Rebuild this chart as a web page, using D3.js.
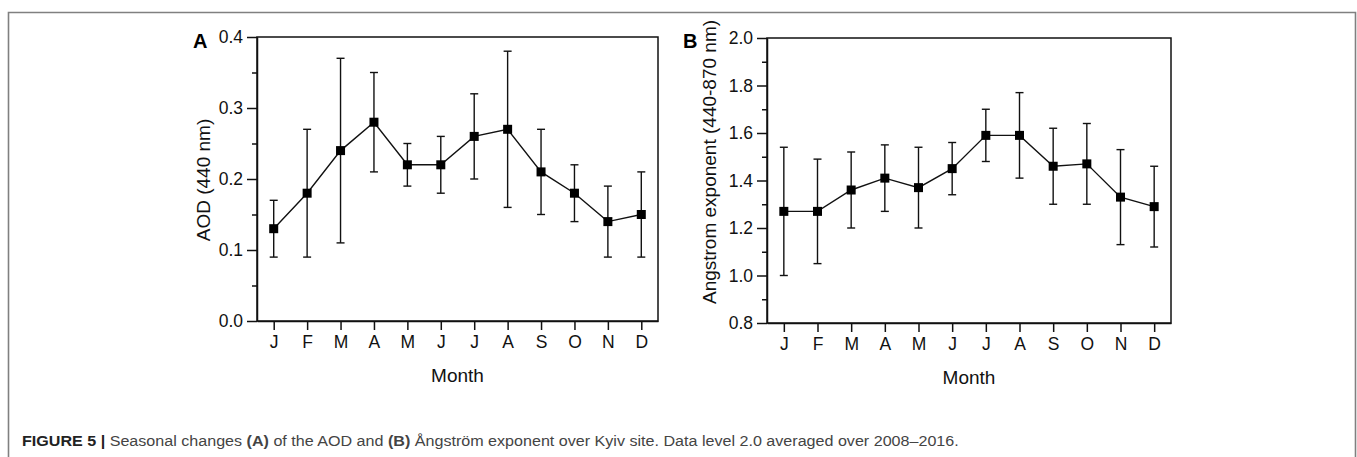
<!DOCTYPE html>
<html>
<head>
<meta charset="utf-8">
<script src="https://cdn.jsdelivr.net/npm/d3@7"></script>
<style>
  body { margin: 0; background: #fff; }
  svg { display: block; font-family: "Liberation Sans", Arial, sans-serif; }
</style>
</head>
<body>
<div id="main"></div>
<script>

var width = 1357,
    height = 457;

// month labels on the x axis
var months = ["J", "F", "M", "A", "M", "J", "J", "A", "S", "O", "N", "D"];

// panel A: AOD (440 nm) mean, lower and upper error
var aodMean = [0.13, 0.18, 0.24, 0.28, 0.22, 0.22, 0.26, 0.27, 0.21, 0.18, 0.14, 0.15];
var aodLow  = [0.09, 0.09, 0.11, 0.21, 0.19, 0.18, 0.20, 0.16, 0.15, 0.14, 0.09, 0.09];
var aodHigh = [0.17, 0.27, 0.37, 0.35, 0.25, 0.26, 0.32, 0.38, 0.27, 0.22, 0.19, 0.21];
var aodTicks = [0.0, 0.1, 0.2, 0.3, 0.4];
var aodMinor = [0.05, 0.15, 0.25, 0.35];

// panel B: Angstrom exponent (440-870 nm)
var aeMean = [1.27, 1.27, 1.36, 1.41, 1.37, 1.45, 1.59, 1.59, 1.46, 1.47, 1.33, 1.29];
var aeLow  = [1.00, 1.05, 1.20, 1.27, 1.20, 1.34, 1.48, 1.41, 1.30, 1.30, 1.13, 1.12];
var aeHigh = [1.54, 1.49, 1.52, 1.55, 1.54, 1.56, 1.70, 1.77, 1.62, 1.64, 1.53, 1.46];
var aeTicks = [0.8, 1.0, 1.2, 1.4, 1.6, 1.8, 2.0];
var aeMinor = [0.9, 1.1, 1.3, 1.5, 1.7, 1.9];

var svg = d3.select("div#main").append("svg")
    .attr("width", width)
    .attr("height", height);

// outer figure frame (no bottom edge, it runs off the picture)
svg.append("path")
    .attr("d", "M8.5,457 V12.5 H1355.5 V457")
    .attr("fill", "none")
    .attr("stroke", "#808080")
    .attr("stroke-width", 1.6);

var panels = [
    { letter: "A", letterX: 193, left: 257, right: 658, top: 37, bottom: 321,
      domain: [0, 0.4], ticks: aodTicks, minor: aodMinor,
      mean: aodMean, low: aodLow, high: aodHigh,
      title: "AOD (440 nm)", titleX: 210, titleY: 180 },
    { letter: "B", letterX: 683, left: 767, right: 1171, top: 38, bottom: 323,
      domain: [0.8, 2.0], ticks: aeTicks, minor: aeMinor,
      mean: aeMean, low: aeLow, high: aeHigh,
      title: "Angstrom exponent (440-870 nm)", titleX: 716, titleY: 162 }
];

panels.forEach(drawPanel);

function drawPanel(p) {
    var x = d3.scaleLinear().domain([0.5, 12.5]).range([p.left, p.right]);
    var y = d3.scaleLinear().domain(p.domain).range([p.bottom, p.top]);

    var g = svg.append("g");

    // y axis, major then minor ticks
    g.append("g")
        .attr("transform", `translate(${p.left},0)`)
        .call(d3.axisLeft(y).tickValues(p.ticks).tickFormat(d3.format(".1f"))
              .tickSize(10).tickPadding(4).tickSizeOuter(0));
    g.append("g")
        .attr("transform", `translate(${p.left},0)`)
        .call(d3.axisLeft(y).tickValues(p.minor).tickFormat("").tickSize(5).tickSizeOuter(0))
        .select(".domain").remove();

    g.append("g")
        .attr("transform", `translate(0,${p.bottom})`)
        .call(d3.axisBottom(x).tickValues(d3.range(1, 13))
              .tickFormat(function(d) { return months[d - 1]; })
              .tickSize(9).tickPadding(6).tickSizeOuter(0));

    g.selectAll(".tick line, .domain").attr("stroke", "#111").attr("stroke-width", 1.5);
    g.selectAll(".tick text").attr("font-size", 17.5).attr("fill", "#111")
        .attr("font-family", "Liberation Sans, Arial, sans-serif");

    // plot box
    g.append("rect")
        .attr("x", p.left).attr("y", p.top)
        .attr("width", p.right - p.left).attr("height", p.bottom - p.top)
        .attr("fill", "none").attr("stroke", "#111").attr("stroke-width", 1.5);

    var idx = d3.range(12);

    // error bars
    var eb = g.selectAll(".err").data(idx).enter().append("g").attr("class", "err")
        .attr("stroke", "#111").attr("stroke-width", 1.4);
    eb.append("line")
        .attr("x1", function(i) { return x(i + 1); })
        .attr("x2", function(i) { return x(i + 1); })
        .attr("y1", function(i) { return y(p.low[i]); })
        .attr("y2", function(i) { return y(p.high[i]); });
    eb.append("line")
        .attr("x1", function(i) { return x(i + 1) - 4; })
        .attr("x2", function(i) { return x(i + 1) + 4; })
        .attr("y1", function(i) { return y(p.low[i]); })
        .attr("y2", function(i) { return y(p.low[i]); });
    eb.append("line")
        .attr("x1", function(i) { return x(i + 1) - 4; })
        .attr("x2", function(i) { return x(i + 1) + 4; })
        .attr("y1", function(i) { return y(p.high[i]); })
        .attr("y2", function(i) { return y(p.high[i]); });

    // connecting line
    var line = d3.line()
        .x(function(i) { return x(i + 1); })
        .y(function(i) { return y(p.mean[i]); });
    g.append("path")
        .datum(idx)
        .attr("d", line)
        .attr("fill", "none")
        .attr("stroke", "#111")
        .attr("stroke-width", 1.4);

    // square markers
    g.selectAll(".pt").data(idx).enter().append("rect")
        .attr("class", "pt")
        .attr("x", function(i) { return x(i + 1) - 4.5; })
        .attr("y", function(i) { return y(p.mean[i]) - 4.5; })
        .attr("width", 9).attr("height", 9)
        .attr("fill", "#000");

    // axis titles
    g.append("text")
        .attr("transform", `translate(${p.titleX},${p.titleY}) rotate(-90)`)
        .attr("text-anchor", "middle")
        .attr("font-size", 19)
        .attr("fill", "#111")
        .text(p.title);

    g.append("text")
        .attr("x", (p.left + p.right) / 2)
        .attr("y", p.bottom + 61)
        .attr("text-anchor", "middle")
        .attr("font-size", 19)
        .attr("fill", "#111")
        .text("Month");

    // panel letter
    g.append("text")
        .attr("x", p.letterX)
        .attr("y", 48)
        .attr("font-size", 20)
        .attr("font-weight", "bold")
        .attr("fill", "#000")
        .text(p.letter);
}

// caption
var cap = svg.append("text")
    .attr("x", 22)
    .attr("y", 446)
    .attr("font-size", 15)
    .attr("fill", "#444");
cap.append("tspan").attr("font-weight", "bold").attr("fill", "#222").text("FIGURE 5 | ");
cap.append("tspan").text("Seasonal changes ");
cap.append("tspan").attr("font-weight", "bold").text("(A)");
cap.append("tspan").text(" of the AOD and ");
cap.append("tspan").attr("font-weight", "bold").text("(B)");
cap.append("tspan").text(" Ångström exponent over Kyiv site. Data level 2.0 averaged over 2008–2016.");

// squeeze caption to the narrow face of the original
var capW = cap.node().getComputedTextLength();
var sx = 938 / capW;
cap.attr("transform", `translate(22,0) scale(${sx},1) translate(-22,0)`);

</script>
</body>
</html>
